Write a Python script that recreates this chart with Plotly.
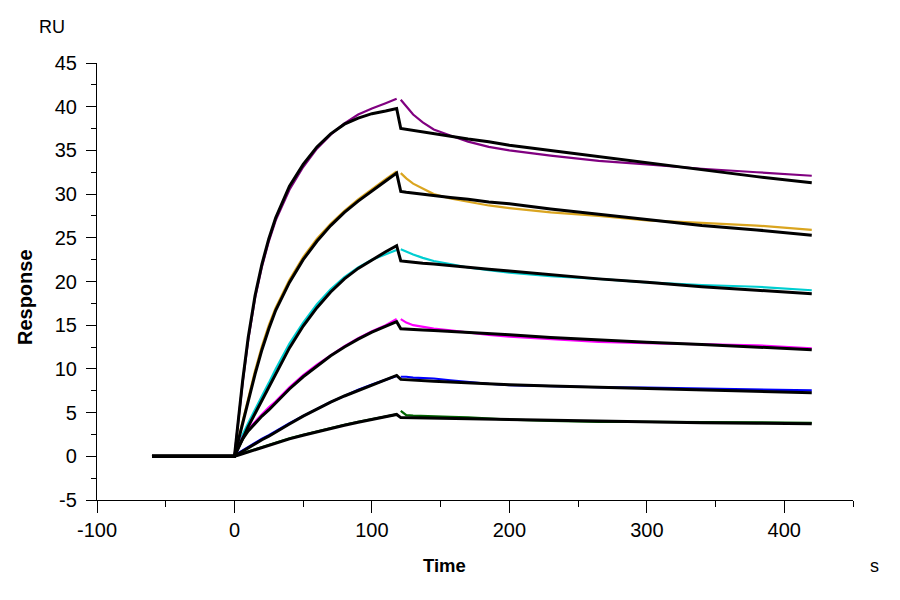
import plotly.graph_objects as go

# time points (s): baseline start, association phase, dissociation phase
t_assoc = [0, 3, 6, 10, 15, 20, 25, 30, 40, 50, 60, 70, 80, 90, 100, 110, 118]
t_dissoc = [121, 125, 130, 137, 145, 157, 170, 185, 200, 230, 265, 300, 340, 380, 420]
t_start = -60

# axis ticks
x_ticks = [-100, 0, 100, 200, 300, 400]
x_ticktext = ["-100", "0", "100", "200", "300", "400"]
y_ticks = [-5, 0, 5, 10, 15, 20, 25, 30, 35, 40, 45]
y_ticktext = ["-5", "0", "5", "10", "15", "20", "25", "30", "35", "40", "45"]

# measured responses (RU), association then dissociation
purple_data = [0, 4.3, 8.5, 13.3, 18.1, 21.7, 24.6, 27.0, 30.5, 33.1, 35.2, 36.8, 38.1, 39.1, 39.8, 40.4, 40.9,
               40.8, 40.1, 39.1, 38.2, 37.4, 36.7, 36.0, 35.4, 35.0, 34.4, 33.8, 33.4, 32.9, 32.5, 32.1]
gold_data = [0, 2.1, 4.1, 6.7, 9.8, 12.6, 15.0, 17.0, 20.2, 22.8, 24.9, 26.6, 28.1, 29.4, 30.6, 31.7, 32.6,
             32.4, 31.8, 31.2, 30.6, 30.0, 29.5, 29.1, 28.7, 28.4, 27.9, 27.5, 27.0, 26.7, 26.4, 25.9]
cyan_data = [0, 1.3, 2.5, 3.8, 5.4, 6.9, 8.4, 10.0, 12.9, 15.3, 17.4, 19.1, 20.5, 21.6, 22.5, 23.1, 23.6,
             23.7, 23.4, 23.1, 22.7, 22.35, 22.0, 21.6, 21.3, 21.0, 20.6, 20.3, 19.9, 19.6, 19.4, 19.0]
magenta_data = [0, 1.2, 2.2, 3.1, 4.0, 4.8, 5.6, 6.3, 7.9, 9.3, 10.5, 11.6, 12.6, 13.5, 14.3, 15.0, 15.7,
                15.7, 15.3, 15.0, 14.8, 14.6, 14.4, 14.15, 13.9, 13.7, 13.4, 13.1, 12.95, 12.85, 12.7, 12.35]
blue_data = [0, 0.4, 0.7, 1.1, 1.5, 2.0, 2.4, 2.9, 3.8, 4.6, 5.4, 6.2, 6.9, 7.6, 8.2, 8.8, 9.2,
             9.1, 9.1, 9.0, 8.95, 8.9, 8.7, 8.5, 8.3, 8.15, 8.0, 7.9, 7.85, 7.75, 7.65, 7.54]
green_data = [0, 0.2, 0.35, 0.6, 0.85, 1.1, 1.35, 1.6, 2.05, 2.45, 2.85, 3.2, 3.6, 3.95, 4.25, 4.55, 4.8,
              5.2, 4.7, 4.65, 4.6, 4.6, 4.5, 4.45, 4.3, 4.2, 4.05, 3.95, 3.95, 3.9, 3.85, 3.84]

# fitted curves (RU)
purple_fit = [0, 4.4, 8.7, 13.6, 18.4, 22.0, 24.9, 27.3, 30.9, 33.4, 35.4, 36.9, 38.0, 38.7, 39.2, 39.5, 39.8,
              37.5, 37.4, 37.3, 37.1, 36.9, 36.6, 36.3, 36.0, 35.6, 35.0, 34.3, 33.6, 32.8, 32.0, 31.3]
gold_fit = [0, 1.9, 3.8, 6.3, 9.4, 12.2, 14.6, 16.7, 19.9, 22.5, 24.6, 26.4, 27.9, 29.2, 30.4, 31.5, 32.4,
            30.3, 30.2, 30.1, 30.0, 29.8, 29.6, 29.4, 29.1, 28.9, 28.3, 27.7, 27.1, 26.4, 25.9, 25.3]
cyan_fit = [0, 1.0, 2.1, 3.4, 4.9, 6.4, 7.9, 9.5, 12.4, 14.9, 17.0, 18.8, 20.3, 21.5, 22.5, 23.4, 24.1,
            22.35, 22.3, 22.2, 22.1, 22.0, 21.8, 21.6, 21.4, 21.2, 20.75, 20.3, 19.9, 19.4, 19.0, 18.6]
magenta_fit = [0, 1.1, 2.0, 2.9, 3.8, 4.6, 5.3, 6.1, 7.7, 9.1, 10.3, 11.5, 12.5, 13.4, 14.2, 14.9, 15.4,
               14.6, 14.55, 14.5, 14.45, 14.4, 14.3, 14.2, 14.05, 13.9, 13.6, 13.3, 13.05, 12.8, 12.5, 12.2]
blue_fit = [0, 0.3, 0.6, 1.0, 1.4, 1.9, 2.3, 2.8, 3.7, 4.6, 5.4, 6.2, 6.9, 7.5, 8.1, 8.7, 9.25,
            8.8, 8.78, 8.75, 8.7, 8.6, 8.5, 8.4, 8.3, 8.2, 8.05, 7.9, 7.8, 7.65, 7.45, 7.27]
green_fit = [0, 0.15, 0.3, 0.55, 0.8, 1.05, 1.3, 1.55, 2.0, 2.4, 2.8, 3.2, 3.55, 3.9, 4.2, 4.5, 4.79,
             4.43, 4.42, 4.4, 4.38, 4.35, 4.3, 4.25, 4.2, 4.15, 4.08, 3.99, 3.93, 3.85, 3.78, 3.72]

series = [
    (purple_data, purple_fit, "#800080"),
    (gold_data, gold_fit, "#DAA520"),
    (cyan_data, cyan_fit, "#00CED1"),
    (magenta_data, magenta_fit, "#FF00FF"),
    (blue_data, blue_fit, "#0000FF"),
    (green_data, green_fit, "#006400"),
]

FONT = "Arial, Liberation Sans, sans-serif"
n_a = len(t_assoc)

fig = go.Figure()

# raw sensorgrams, with a short gap at the injection end
for data, _, color in series:
    x = [t_start] + t_assoc + [None] + t_dissoc
    y = [0] + data[:n_a] + [None] + data[n_a:]
    fig.add_trace(go.Scatter(x=x, y=y, mode="lines", line=dict(color=color, width=2.2),
                             connectgaps=False, showlegend=False, hoverinfo="skip"))

# fits drawn on top
for _, fit, _ in series:
    fig.add_trace(go.Scatter(x=[t_start] + t_assoc + t_dissoc, y=[0] + fit, mode="lines",
                             line=dict(color="black", width=3), showlegend=False, hoverinfo="skip"))

axis_common = dict(
    showline=True, linecolor="black", linewidth=1.2, mirror=False,
    showgrid=False, zeroline=False,
    ticks="outside", tickcolor="black", tickwidth=1.2,
    tickfont=dict(family=FONT, size=20, color="black"),
)

fig.update_xaxes(range=[-100, 450], tickvals=x_ticks, ticktext=x_ticktext, ticklen=12,
                 minor=dict(ticks="outside", tick0=0, dtick=50, ticklen=6, tickcolor="black", tickwidth=1.2),
                 **axis_common)
fig.update_yaxes(range=[-5, 45], tickvals=y_ticks, ticktext=y_ticktext, ticklen=10,
                 ticklabelstandoff=5,
                 minor=dict(ticks="outside", tick0=0, dtick=2.5, ticklen=5, tickcolor="black", tickwidth=1.2),
                 **axis_common)

labels = [
    dict(text="RU", x=-0.0595, y=1.0824, angle=0, bold=False, size=18),
    dict(text="Response", x=-0.0952, y=0.4645, angle=-90, bold=True, size=20),
    dict(text="Time", x=0.4603, y=-0.151, angle=0, bold=True, size=18.5),
    dict(text="s", x=1.0278, y=-0.151, angle=0, bold=False, size=18),
]
for lab in labels:
    txt = f"<b>{lab['text']}</b>" if lab["bold"] else lab["text"]
    fig.add_annotation(text=txt, x=lab["x"], y=lab["y"], xref="paper", yref="paper",
                       xanchor="center", yanchor="middle", showarrow=False,
                       textangle=lab["angle"], font=dict(family=FONT, size=lab["size"], color="black"))

# the page has an 8px body margin, so the margins are shifted to match
fig.update_layout(
    width=900, height=600,
    margin=dict(l=89, r=55, t=55, b=108),
    paper_bgcolor="white", plot_bgcolor="white",
)

fig.write_html("out.html")
